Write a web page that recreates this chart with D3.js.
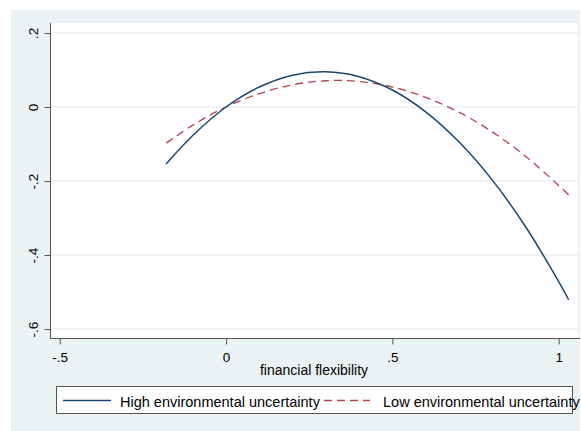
<!DOCTYPE html>
<html>
<head>
<meta charset="utf-8">
<script src="https://cdn.jsdelivr.net/npm/d3@7"></script>
<style>
	html, body { margin: 0; padding: 0; background: #ffffff; }
	svg { display: block; font-family: "Liberation Sans", Arial, sans-serif; }
</style>
</head>
<body>
<svg id="chart" width="581" height="431"></svg>
<script>
// values
const flexibility = [-0.18, -0.1, 0, 0.1, 0.2, 0.3, 0.4, 0.5, 0.6, 0.7, 0.8, 0.9, 1.0, 1.03];
const highUncertainty = [-0.154, -0.077, 0, 0.054, 0.086, 0.095, 0.082, 0.046, -0.013, -0.094, -0.197, -0.323, -0.472, -0.521];
const lowUncertainty = [-0.098, -0.049, 0, 0.036, 0.060, 0.071, 0.069, 0.054, 0.026, -0.014, -0.067, -0.133, -0.212, -0.238];
const xTicks = [-0.5, 0, 0.5, 1];
const xTickLabels = ["-.5", "0", ".5", "1"];
const yTicks = [0.2, 0, -0.2, -0.4, -0.6];
const yTickLabels = [".2", "0", "-.2", "-.4", "-.6"];
const seriesNames = ["High environmental uncertainty", "Low environmental uncertainty"];

(function() {
	let svg = d3.select("#chart");
	let plot = { left: 51, right: 578, top: 23, bottom: 338 };

	let x = d3.scaleLinear().domain([-0.5, 1]).range([59.7, 558.7]);
	let y = d3.scaleLinear().domain([-0.6, 0.2]).range([329, 33]);

	// outer graph region
	svg.append("rect")
		.attr("x", 11).attr("y", 10)
		.attr("width", 569).attr("height", 421)
		.attr("fill", "#eaf2f3");

	// plot region
	svg.append("rect")
		.attr("x", plot.left).attr("y", plot.top)
		.attr("width", plot.right - plot.left).attr("height", plot.bottom - plot.top)
		.attr("fill", "#ffffff");

	// grid
	svg.append("g").selectAll("line")
		.data(yTicks)
		.enter()
		.append("line")
		.attr("x1", plot.left).attr("x2", plot.right)
		.attr("y1", d => y(d)).attr("y2", d => y(d))
		.attr("stroke", "#eaf2f3")
		.attr("stroke-width", 1.5);

	// y axis
	let yAxis = svg.append("g")
		.attr("transform", "translate(50.5,0)")
		.call(d3.axisLeft(y).tickValues(yTicks).tickSize(6).tickSizeOuter(0)
			.tickFormat((d, i) => yTickLabels[i]));
	yAxis.select(".domain").remove();
	yAxis.selectAll(".tick line").attr("stroke", "#555555");
	yAxis.selectAll(".tick text")
		.attr("transform", "rotate(-90)")
		.attr("x", 0).attr("y", -12.5).attr("dy", 0)
		.attr("text-anchor", "middle")
		.style("font-size", "13.5px")
		.style("fill", "#000000");

	// x axis
	let xAxis = svg.append("g")
		.attr("transform", "translate(0,338.5)")
		.call(d3.axisBottom(x).tickValues(xTicks).tickSize(6).tickSizeOuter(0)
			.tickFormat((d, i) => xTickLabels[i]));
	xAxis.select(".domain").remove();
	xAxis.selectAll(".tick line").attr("stroke", "#555555");
	xAxis.selectAll(".tick text")
		.attr("y", 23).attr("dy", 0)
		.style("font-size", "13.5px")
		.style("fill", "#000000");

	// axis lines
	svg.append("line")
		.attr("x1", 50.5).attr("x2", 50.5)
		.attr("y1", plot.top).attr("y2", 338.5)
		.attr("stroke", "#555555");
	svg.append("line")
		.attr("x1", 50).attr("x2", 580)
		.attr("y1", 338.5).attr("y2", 338.5)
		.attr("stroke", "#555555");

	// axis title
	svg.append("text")
		.attr("x", 314).attr("y", 375)
		.attr("text-anchor", "middle")
		.style("font-size", "14px")
		.text("financial flexibility");

	// curves
	let line = d3.line().curve(d3.curveCatmullRom);
	let highPts = flexibility.map((v, i) => [x(v), y(highUncertainty[i])]);
	let lowPts = flexibility.map((v, i) => [x(v), y(lowUncertainty[i])]);

	svg.append("path")
		.attr("d", line(lowPts))
		.attr("fill", "none")
		.attr("stroke", "#b5454c")
		.attr("stroke-width", 1.3)
		.attr("stroke-dasharray", "8,5");

	svg.append("path")
		.attr("d", line(highPts))
		.attr("fill", "none")
		.attr("stroke", "#1a476f")
		.attr("stroke-width", 1.5);

	// legend
	let legend = svg.append("g");
	legend.append("rect")
		.attr("x", 56.5).attr("y", 386.5)
		.attr("width", 516).attr("height", 27)
		.attr("fill", "#ffffff")
		.attr("stroke", "#555555");
	legend.append("line")
		.attr("x1", 63).attr("x2", 111)
		.attr("y1", 400.5).attr("y2", 400.5)
		.attr("stroke", "#1a476f")
		.attr("stroke-width", 1.5);
	legend.append("text")
		.attr("x", 120).attr("y", 406.5)
		.style("font-size", "14.5px")
		.text(seriesNames[0]);
	legend.append("line")
		.attr("x1", 324).attr("x2", 370)
		.attr("y1", 400.5).attr("y2", 400.5)
		.attr("stroke", "#b5454c")
		.attr("stroke-width", 1.3)
		.attr("stroke-dasharray", "8,5");
	legend.append("text")
		.attr("x", 383).attr("y", 406.5)
		.style("font-size", "14.5px")
		.text(seriesNames[1]);
})();
</script>
</body>
</html>
